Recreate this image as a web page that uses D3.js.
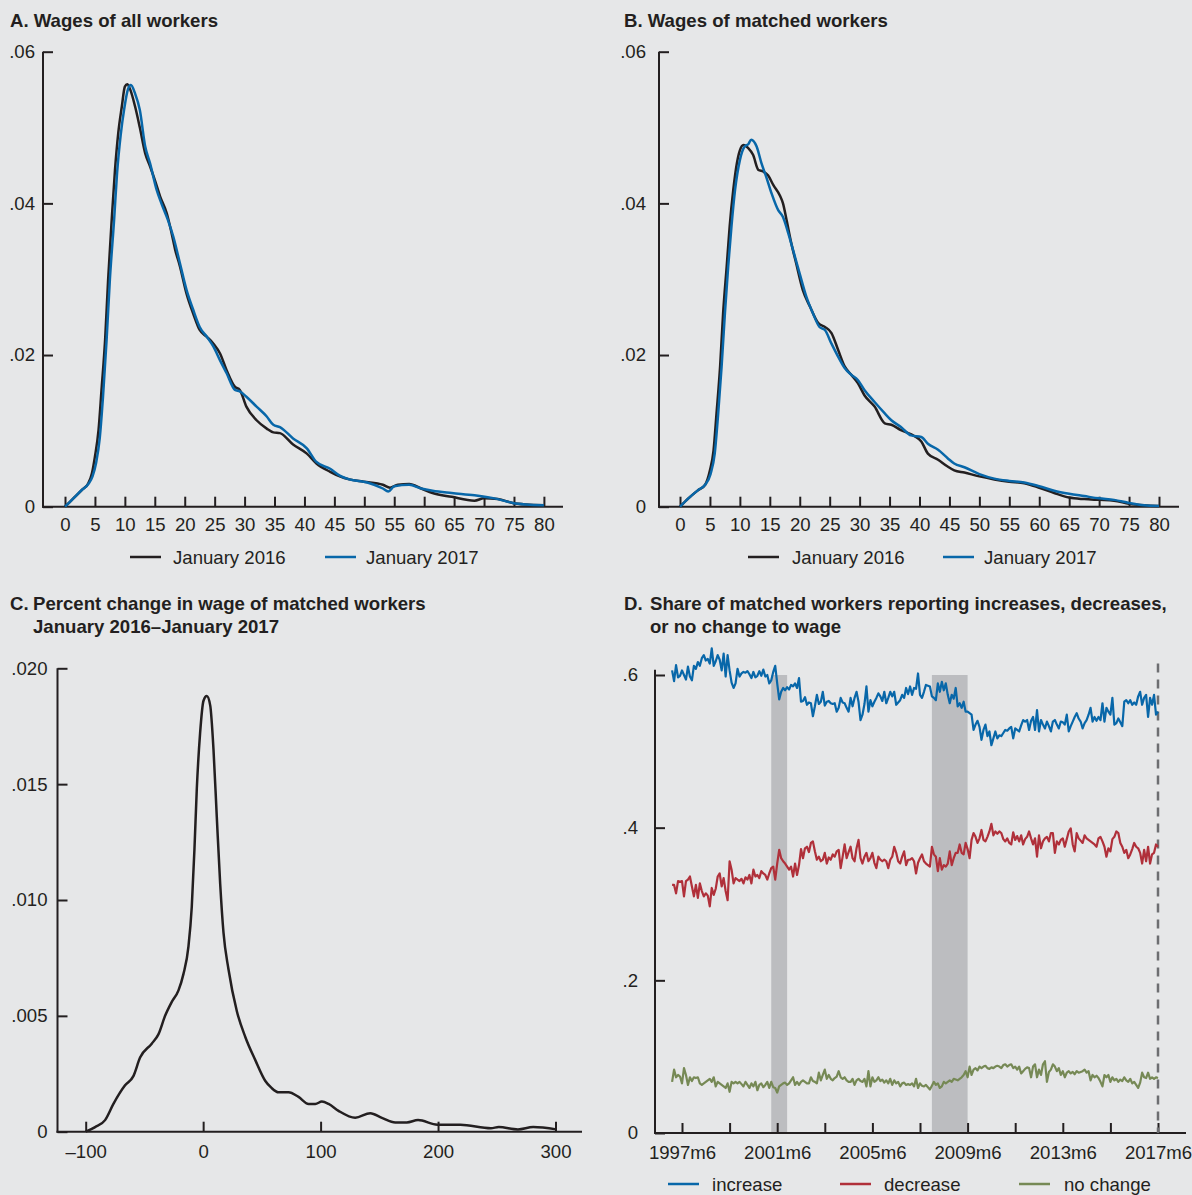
<!DOCTYPE html>
<html>
<head>
<meta charset="utf-8">
<script src="https://cdn.jsdelivr.net/npm/d3@7"></script>
<style>
body { margin: 0; background: #e6e7e8; }
svg { display: block; font-family: "Liberation Sans", Arial, Helvetica, sans-serif; }
.tick text { font-size: 18.6px; fill: #231f20; }
.tick line { stroke: #231f20; stroke-width: 2; }
.title { font-size: 18.6px; font-weight: bold; fill: #231f20; }
.leg { font-size: 18.6px; fill: #231f20; }
</style>
</head>
<body>
<svg id="chart" width="1192" height="1195"></svg>
<script>
//
//  Four panels: wage densities (A, B), percent-change density (C)
//  and monthly shares of matched workers with wage up/down/unchanged (D).
//

    // panel A : wages of all workers, [wage, density]
var allWorkers2016 = [[0,0],[1.4,.0011],[2.8,.0022],[3.9,.0031],[4.5,.0044],[5.0,.0066],[5.6,.0101],[6.1,.0154],
    [6.7,.0220],[7.2,.0299],[7.8,.0378],[8.35,.0444],[8.9,.0493],[9.5,.0528],[10.0,.0554],[10.4,.0557],[10.9,.0550],
    [11.7,.0528],[12.5,.0500],[13.4,.0466],[14.2,.0449],[15.0,.0431],[15.9,.0409],[17.0,.0387],[17.8,.0361],[18.4,.0339],
    [19.2,.0317],[20.3,.0281],[21.4,.0255],[22.5,.0233],[23.7,.0224],[24.8,.0215],[25.9,.0202],[27.0,.0180],[28.4,.0158],
    [29.2,.0154],[30.3,.0132],[32.0,.0114],[33.7,.0103],[34.8,.0098],[35.9,.0097],[38.1,.0082],[40.4,.0070],[42.0,.0057],
    [44.3,.0046],[45.9,.0040],[47.5,.0036],[49.9,.0033],[53.1,.0029],[54.3,.0025],[55.6,.0029],[57.5,.0030],[59.5,.0024],
    [61.4,.0018],[64.6,.0013],[68.4,.0008],[70.0,.0011],[72.3,.0010],[74.8,.0005],[77,.0003],[80,.0002]];
var allWorkers2017 = [[0,0],[1.4,.0011],[2.8,.0022],[3.9,.0030],[4.6,.0040],[5.2,.0058],[5.8,.0090],[6.35,.0145],
    [6.95,.0220],[7.5,.0300],[8.2,.0378],[8.7,.0440],[9.3,.0490],[9.9,.0525],[10.5,.0550],[11.0,.0556],[11.7,.0545],
    [12.5,.0523],[13.4,.0475],[14.2,.0453],[15.3,.0418],[16.1,.0400],[17.2,.0378],[18.1,.0356],[19.2,.0321],[20.3,.0286],
    [21.4,.0260],[22.5,.0237],[23.7,.0224],[24.8,.0211],[25.9,.0193],[27.0,.0176],[28.4,.0154],[29.2,.0152],[30.3,.0145],
    [32.0,.0132],[33.7,.0119],[34.8,.0108],[35.9,.0105],[38.1,.0090],[40.4,.0077],[42.0,.0059],[44.3,.0050],[45.9,.0041],
    [47.5,.0036],[50.5,.0032],[53.1,.0024],[54.0,.0020],[55.0,.0027],[57.5,.0029],[59.5,.0024],[61.4,.0021],[64.6,.0018],
    [68.4,.0015],[72.3,.0010],[74.8,.0005],[77,.0003],[80,.0002]];

    // panel B : wages of matched workers
var matched2016 = [[0,0],[1.4,.0011],[3.06,.0022],[4.2,.0029],[5.0,.0048],[5.6,.0074],[6.1,.0123],[6.7,.0185],
    [7.2,.0255],[7.8,.0317],[8.3,.0370],[8.9,.0418],[9.5,.0453],[10.0,.0470],[10.6,.0477],[11.4,.0473],[12.2,.0464],
    [13.1,.0444],[13.9,.0442],[14.7,.0437],[15.6,.0424],[16.7,.0410],[17.2,.0400],[17.8,.0378],[18.6,.0347],[19.4,.0321],
    [20.5,.0286],[21.7,.0264],[23.1,.0242],[24.2,.0237],[25.3,.0229],[26.4,.0207],[27.5,.0185],[28.6,.0174],[29.7,.0163],
    [30.8,.0147],[32.5,.0132],[34.2,.0110],[35.3,.0108],[36.9,.0101],[39.2,.0093],[40.3,.0086],[41.4,.0070],[43.1,.0062],
    [44.7,.0053],[45.8,.0048],[47.5,.0045],[50,.0040],[52.5,.0036],[55,.0033],[57.5,.0031],[60,.0025],[62.5,.0018],
    [65,.0012],[67.5,.0010],[70,.0009],[72.5,.0008],[75,.0004],[77.5,.0002],[80,.0001]];
var matched2017 = [[0,0],[1.4,.0011],[3.06,.0022],[4.2,.0029],[5.1,.0043],[5.8,.0070],[6.35,.0120],[6.95,.0185],
    [7.5,.0255],[8.05,.0317],[8.6,.0370],[9.2,.0418],[10.0,.0457],[10.8,.0475],[11.4,.0478],[11.9,.0484],[12.8,.0475],
    [13.6,.0453],[14.4,.0435],[15.3,.0413],[16.4,.0391],[17.2,.0382],[18.1,.0360],[18.9,.0338],[20.0,.0307],[21.1,.0277],
    [22.2,.0255],[23.3,.0237],[24.2,.0233],[25.3,.0215],[26.4,.0198],[27.5,.0183],[28.6,.0174],[29.7,.0167],[30.8,.0154],
    [32.5,.0138],[34.2,.0123],[35.3,.0114],[36.9,.0105],[38.6,.0094],[40.3,.0092],[41.4,.0083],[43.1,.0075],[44.7,.0064],
    [45.8,.0057],[47.5,.0052],[50,.0043],[52.5,.0037],[55,.0034],[57.5,.0032],[60,.0027],[62.5,.0021],[65,.0017],
    [67.5,.0014],[70,.0011],[72.5,.0009],[75,.0005],[77.5,.0002],[80,.0001]];

    // panel C : percent change in wage, [pct, density]
var pctChange = [[-100,0],[-92,.0002],[-83.5,.0005],[-76.4,.0012],[-66.5,.0020],[-59.4,.0024],[-53.7,.0032],
    [-43.8,.0038],[-38.1,.0042],[-32.4,.0050],[-26.7,.0056],[-21.0,.0061],[-16.8,.0068],[-12.5,.0080],[-9.7,.0097],
    [-7.4,.0122],[-5.4,.0148],[-2.6,.0172],[0.3,.0186],[3.1,.0188],[6.0,.0184],[8.8,.0165],[11.6,.0136],[14.5,.0107],
    [17.3,.0086],[21.6,.0070],[28.7,.0052],[35.8,.0041],[44.3,.0031],[52.8,.0022],[58,.0019],[64.2,.0017],[72.7,.0017],
    [81.2,.0015],[89.8,.0012],[95.5,.0012],[101.1,.0013],[106.8,.0012],[115.3,.0009],[129.5,.0006],[142.3,.0008],
    [152.2,.0006],[163.6,.0004],[173.4,.0004],[183,.0005],[199.5,.0003],[219,.0003],[245,.00015],[251.7,.0002],
    [268,.0001],[281,.0002],[300.7,.0001]];

    // panel D : monthly shares, 1997m1 - 2017m6
var firstYear = 1997;
var shareIncrease = [
    .606,.592,.613,.597,.599,.606,.600,.594,.611,.598,.593,.612,
    .608,.617,.612,.622,.626,.619,.621,.615,.635,.612,.618,.626,
    .620,.606,.628,.598,.626,.606,.590,.583,.589,.608,.598,.602,
    .604,.603,.605,.601,.596,.604,.597,.599,.605,.599,.607,.598,
    .600,.589,.593,.604,.612,.589,.568,.578,.583,.580,.584,.581,
    .587,.585,.589,.583,.596,.565,.566,.571,.561,.564,.563,.546,
    .559,.574,.562,.565,.578,.560,.565,.566,.563,.562,.563,.552,
    .557,.570,.564,.563,.557,.552,.570,.559,.570,.578,.565,.541,
    .548,.562,.585,.552,.567,.559,.565,.570,.576,.572,.566,.578,
    .563,.570,.578,.572,.578,.561,.564,.567,.574,.570,.583,.575,
    .585,.574,.583,.582,.602,.574,.570,.578,.587,.586,.585,.572,
    .570,.567,.589,.578,.591,.580,.589,.574,.563,.574,.569,.583,
    .559,.563,.557,.565,.552,.552,.550,.548,.528,.535,.540,.532,
    .515,.528,.535,.520,.526,.508,.517,.526,.517,.521,.520,.524,
    .528,.527,.530,.532,.517,.530,.528,.526,.534,.541,.539,.541,
    .528,.540,.545,.528,.554,.526,.541,.535,.530,.539,.533,.526,
    .539,.541,.535,.530,.539,.538,.535,.548,.526,.533,.539,.545,
    .550,.543,.539,.530,.537,.541,.548,.557,.539,.545,.540,.545,
    .541,.563,.539,.557,.552,.548,.570,.535,.537,.543,.538,.533,
    .565,.567,.563,.567,.561,.564,.561,.572,.578,.561,.570,.574,
    .545,.570,.561,.574,.548,.552];
var shareDecrease = [
    .325,.325,.314,.330,.329,.330,.310,.330,.332,.336,.323,.310,
    .325,.308,.327,.317,.310,.314,.311,.297,.321,.312,.320,.336,
    .340,.323,.334,.317,.305,.356,.345,.327,.334,.332,.330,.333,
    .327,.335,.332,.338,.327,.345,.336,.338,.334,.343,.340,.338,
    .332,.340,.347,.349,.332,.353,.371,.360,.356,.353,.349,.345,
    .349,.336,.353,.338,.351,.372,.360,.373,.375,.368,.380,.382,
    .369,.358,.362,.356,.358,.367,.353,.361,.358,.365,.362,.369,
    .371,.347,.362,.378,.360,.368,.375,.360,.356,.373,.384,.360,
    .353,.362,.367,.356,.360,.367,.354,.347,.362,.358,.356,.358,
    .356,.347,.358,.362,.375,.367,.356,.353,.362,.369,.351,.358,
    .358,.360,.356,.340,.354,.360,.365,.356,.353,.351,.349,.375,
    .365,.362,.343,.360,.345,.351,.349,.353,.369,.351,.360,.367,
    .367,.378,.367,.365,.380,.372,.360,.384,.393,.388,.380,.386,
    .397,.384,.382,.388,.395,.405,.390,.395,.392,.395,.393,.385,
    .382,.386,.380,.378,.394,.384,.389,.382,.390,.378,.385,.388,
    .395,.386,.378,.386,.362,.390,.373,.382,.386,.388,.382,.393,
    .393,.367,.382,.378,.384,.386,.375,.385,.395,.399,.378,.369,
    .393,.386,.383,.380,.390,.386,.384,.382,.380,.378,.375,.386,
    .388,.382,.375,.362,.373,.369,.385,.388,.395,.393,.380,.375,
    .367,.371,.360,.365,.372,.380,.375,.373,.367,.353,.371,.356,
    .375,.353,.365,.367,.378,.375];
var shareNoChange = [
    .067,.083,.073,.076,.074,.065,.085,.076,.063,.073,.068,.073,
    .072,.073,.065,.063,.065,.067,.069,.071,.067,.073,.061,.067,
    .065,.063,.061,.059,.065,.054,.067,.065,.067,.065,.067,.064,
    .061,.067,.063,.059,.065,.061,.067,.056,.063,.065,.060,.063,
    .067,.059,.067,.060,.059,.053,.061,.063,.065,.066,.063,.065,
    .069,.073,.063,.067,.063,.067,.069,.067,.065,.065,.073,.068,
    .067,.065,.079,.069,.076,.083,.071,.076,.071,.069,.072,.074,
    .081,.073,.071,.073,.069,.067,.067,.071,.063,.069,.071,.068,
    .067,.071,.061,.081,.061,.073,.067,.069,.073,.068,.070,.066,
    .069,.065,.071,.063,.069,.065,.067,.061,.065,.066,.063,.064,
    .063,.065,.061,.071,.059,.065,.062,.061,.063,.060,.057,.062,
    .067,.063,.065,.059,.061,.067,.065,.067,.069,.067,.071,.070,
    .069,.071,.073,.076,.081,.073,.087,.076,.083,.085,.082,.087,
    .085,.087,.088,.085,.084,.086,.085,.087,.088,.087,.085,.089,
    .090,.087,.089,.090,.085,.087,.083,.087,.078,.081,.084,.086,
    .085,.073,.087,.090,.073,.083,.076,.090,.094,.067,.080,.083,
    .090,.087,.081,.085,.076,.081,.073,.079,.081,.078,.080,.077,
    .081,.079,.080,.081,.083,.079,.081,.069,.076,.073,.075,.072,
    .067,.061,.076,.073,.076,.067,.073,.069,.071,.067,.070,.068,
    .073,.069,.067,.071,.065,.067,.063,.059,.066,.079,.073,.072,
    .079,.071,.073,.071,.073,.072];

    // recessions as [start, end] in decimal years (2001m3-2001m11, 2007m12-2009m6)
var recessions = [[2001 + 2/12, 2001 + 10/12], [2007 + 11/12, 2009 + 5/12]];

var wageTicks = d3.range(0, 81, 5);
var densityTicks = [0, .02, .04, .06];
var pctTicks = [-100, 0, 100, 200, 300];
var pctDensityTicks = [0, .005, .010, .015, .020];
var shareTicks = [0, .2, .4, .6];
var yearTicks = d3.range(1997, 2018, 2);

var INK = "#231f20", BLUE = "#0867a9", RED = "#b0303a", GREEN = "#768955";

var svg = d3.select("#chart");
svg.append("rect").attr("width", 1192).attr("height", 1195).attr("fill", "#e6e7e8");

function noLead(fmt) {
    return function (d) { return d === 0 ? "0" : d3.format(fmt)(d).replace(/^0/, ""); };
}

    // draws the two axes with inward ticks
function drawFrame(x, y, o) {
    var bottom = y(0);
    var ya = svg.append("g").attr("transform", "translate(" + o.left + ",0)")
        .call(d3.axisLeft(y).tickValues(o.yTicks).tickFormat(o.yFormat).tickSize(-10).tickPadding(o.yPad));
    ya.select(".domain").remove();
    var xa = svg.append("g").attr("transform", "translate(0," + bottom + ")")
        .call(d3.axisBottom(x).tickValues(o.xTicks).tickFormat(o.xFormat).tickSize(-10).tickPadding(o.xPad));
    xa.select(".domain").remove();
    svg.selectAll(".tick text").attr("font-family", null).attr("font-size", null);

    svg.append("line").attr("x1", o.left).attr("x2", o.left).attr("y1", o.top).attr("y2", bottom + 1)
        .attr("stroke", INK).attr("stroke-width", 2);
    svg.append("line").attr("x1", o.left - 1).attr("x2", o.right).attr("y1", bottom).attr("y2", bottom)
        .attr("stroke", INK).attr("stroke-width", 2);
}

function drawCurve(data, x, y, color, curve, width) {
    svg.append("path").datum(data)
        .attr("fill", "none").attr("stroke", color).attr("stroke-width", width)
        .attr("stroke-linejoin", "round")
        .attr("d", d3.line().x(function (d) { return x(d[0]); }).y(function (d) { return y(d[1]); }).curve(curve));
}

function drawLegend(items, y) {
    items.forEach(function (it) {
        svg.append("line").attr("x1", it.x).attr("x2", it.x + 31).attr("y1", y).attr("y2", y)
            .attr("stroke", it.color).attr("stroke-width", 2.5);
        svg.append("text").attr("class", "leg").attr("x", it.tx).attr("y", y).attr("dy", "0.35em").text(it.label);
    });
}

function title(lines, y) {
    lines.forEach(function (t, i) {
        svg.append("text").attr("class", "title").attr("x", t[0]).attr("y", y + i * 23).text(t[1]);
    });
}

    // ---- panel A
var xA = d3.scaleLinear().domain([0, 80]).range([65, 543.9]);
var yA = d3.scaleLinear().domain([0, .06]).range([506.7, 51.7]);
title([[10, "A. Wages of all workers"]], 27);
drawFrame(xA, yA, {left: 43, top: yA(.06), right: 563, yTicks: densityTicks, yFormat: noLead(".2f"), yPad: 8,
    xTicks: wageTicks, xFormat: d3.format("d"), xPad: 11});
drawCurve(allWorkers2016, xA, yA, INK, d3.curveMonotoneX, 2.5);
drawCurve(allWorkers2017, xA, yA, BLUE, d3.curveMonotoneX, 2.5);
drawLegend([{x: 130, tx: 173, color: INK, label: "January 2016"},
            {x: 325, tx: 366, color: BLUE, label: "January 2017"}], 557);

    // ---- panel B
var xB = d3.scaleLinear().domain([0, 80]).range([680, 1159]);
var yB = d3.scaleLinear().domain([0, .06]).range([506.7, 51.7]);
title([[624, "B. Wages of matched workers"]], 27);
drawFrame(xB, yB, {left: 659, top: yB(.06), right: 1179, yTicks: densityTicks, yFormat: noLead(".2f"), yPad: 13,
    xTicks: wageTicks, xFormat: d3.format("d"), xPad: 11});
drawCurve(matched2016, xB, yB, INK, d3.curveMonotoneX, 2.5);
drawCurve(matched2017, xB, yB, BLUE, d3.curveMonotoneX, 2.5);
drawLegend([{x: 748, tx: 792, color: INK, label: "January 2016"},
            {x: 943, tx: 984, color: BLUE, label: "January 2017"}], 557);

    // ---- panel C
var xC = d3.scaleLinear().domain([-100, 300]).range([85.7, 555.5]);
var yC = d3.scaleLinear().domain([0, .02]).range([1131.7, 668.3]);
title([[10, "C."]], 610);
title([[33, "Percent change in wage of matched workers"], [33, "January 2016\u2013January 2017"]], 610);
drawFrame(xC, yC, {left: 57.5, top: yC(.02), right: 582, yTicks: pctDensityTicks, yFormat: noLead(".3f"), yPad: 10,
    xTicks: pctTicks, xFormat: function (d) { return d < 0 ? "\u2013" + Math.abs(d) : d; }, xPad: 13});
drawCurve(pctChange, xC, yC, INK, d3.curveMonotoneX, 2.5);

    // ---- panel D
var xD = d3.scaleLinear().domain([1997 + 5/12, 2017 + 5/12]).range([682, 1158]);
var yD = d3.scaleLinear().domain([0, .6]).range([1133, 675]);
title([[624, "D."]], 610);
title([[650, "Share of matched workers reporting increases, decreases,"], [650, "or no change to wage"]], 610);

svg.selectAll(".recession").data(recessions).enter().append("rect").attr("class", "recession")
    .attr("x", function (d) { return xD(d[0]); })
    .attr("width", function (d) { return xD(d[1]) - xD(d[0]); })
    .attr("y", yD(.6)).attr("height", yD(0) - yD(.6))
    .attr("fill", "#bcbdc0");

drawFrame(xD, yD, {left: 655, top: yD(.607), right: 1186, yTicks: shareTicks, yFormat: noLead(".1f"), yPad: 17,
    xTicks: yearTicks.map(function (yr) { return yr + 5/12; }),
    xFormat: function (d) { var yr = Math.round(d - 5/12); return (yr - 1997) % 4 === 0 ? yr + "m6" : ""; }, xPad: 13});

function monthly(arr) {
    return arr.map(function (v, i) { return [firstYear + i / 12, v]; });
}
var lastMonth = firstYear + (shareIncrease.length - 1) / 12;
svg.append("line").attr("x1", xD(lastMonth)).attr("x2", xD(lastMonth))
    .attr("y1", yD(.615)).attr("y2", yD(0))
    .attr("stroke", "#6d6e71").attr("stroke-width", 2.5).attr("stroke-dasharray", "9,7");

drawCurve(monthly(shareIncrease), xD, yD, BLUE, d3.curveLinear, 2.2);
drawCurve(monthly(shareDecrease), xD, yD, RED, d3.curveLinear, 2.2);
drawCurve(monthly(shareNoChange), xD, yD, GREEN, d3.curveLinear, 2.2);

drawLegend([{x: 668, tx: 712, color: BLUE, label: "increase"},
            {x: 840, tx: 884, color: RED, label: "decrease"},
            {x: 1019, tx: 1064, color: GREEN, label: "no change"}], 1184);
</script>
</body>
</html>
